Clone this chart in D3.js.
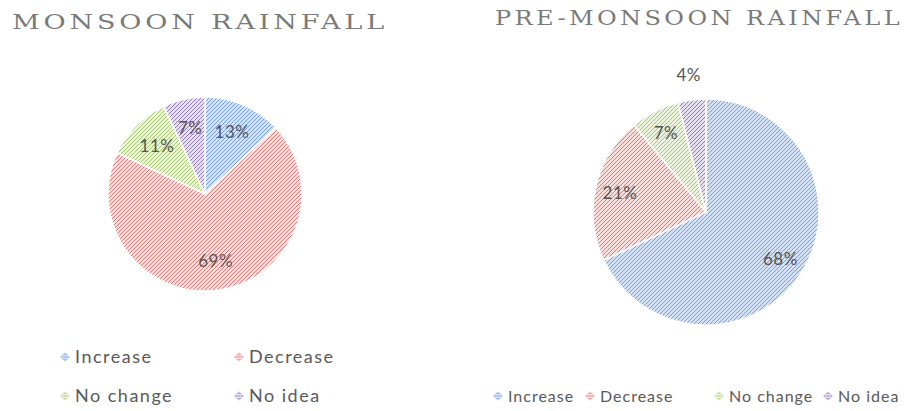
<!DOCTYPE html>
<html><head><meta charset="utf-8">
<script src="https://cdn.jsdelivr.net/npm/d3@7"></script>
<style>body{margin:0;background:#fff}svg{display:block}</style>
</head><body>
<svg id="c" width="918" height="411"></svg>
<script>
const categories = ["Increase", "Decrease", "No change", "No idea"];
const monsoonValues = [13, 69, 11, 7];
const preMonsoonValues = [68, 21, 7, 4];
const titles = ["MONSOON RAINFALL", "PRE-MONSOON RAINFALL"];

const lineColors = ["#769cd6", "#d77b78", "#a9c772", "#8f7bb5"];
const bgColors = ["#d3e2f7", "#f8dedd", "#ebf3dc", "#e6e0f1"];

const svg = d3.select("#c");
const defs = svg.append("defs");
categories.forEach((c, i) => {
  const p = defs.append("pattern").attr("id", "pat" + i).attr("patternUnits", "userSpaceOnUse")
    .attr("width", 4).attr("height", 4);
  p.append("rect").attr("width", 4).attr("height", 4).attr("fill", bgColors[i]);
  p.append("path").attr("d", "M-1,1 l2,-2 M0,4 l4,-4 M3,5 l2,-2")
    .attr("stroke", lineColors[i]).attr("stroke-width", 1);
});

const pie = d3.pie().sort(null).value(d => d);

function drawPie(values, cx, cy, r, labelFactor) {
  const g = svg.append("g").attr("transform", `translate(${cx},${cy})`);
  const arcs = pie(values);
  const arc = d3.arc().innerRadius(0).outerRadius(r);
  g.selectAll("path").data(arcs).join("path")
    .attr("d", arc)
    .attr("fill", (d, i) => `url(#pat${i})`)
    .attr("stroke", "#fff").attr("stroke-width", 1.5);
  const inner = d3.arc().innerRadius(r * labelFactor).outerRadius(r * labelFactor);
  const outer = d3.arc().innerRadius(r * 1.22).outerRadius(r * 1.22);
  g.selectAll("text").data(arcs).join("text")
    .attr("transform", d => `translate(${(d.data < 5 ? outer : inner).centroid(d)})`)
    .attr("text-anchor", "middle").attr("dy", "0.35em")
    .attr("font-family", "Lato, 'Open Sans', sans-serif").attr("font-size", 17)
    .attr("fill", "#555").attr("letter-spacing", 0.5)
    .text(d => d.data + "%");
}

drawPie(monsoonValues, 205, 194, 97, 0.7);
drawPie(preMonsoonValues, 706, 212, 113, 0.78);

// titles
svg.append("text").attr("x", 12).attr("y", 29).text(titles[0])
  .attr("font-family", "'DejaVu Serif', serif").attr("font-size", 21).attr("fill", "#7a7a7a")
  .attr("letter-spacing", 3)
  .attr("textLength", 376).attr("lengthAdjust", "spacingAndGlyphs");
svg.append("text").attr("x", 495).attr("y", 25).text(titles[1])
  .attr("font-family", "'DejaVu Serif', serif").attr("font-size", 21).attr("fill", "#7a7a7a")
  .attr("letter-spacing", 3)
  .attr("textLength", 408).attr("lengthAdjust", "spacingAndGlyphs");

// legends
function legendItem(x, y, i, size, ls) {
  svg.append("rect").attr("x", -3.5).attr("y", -3.5).attr("width", 7).attr("height", 7)
    .attr("transform", `translate(${x},${y}) rotate(45)`)
    .attr("fill", `url(#pat${i})`);
  svg.append("text").attr("x", x + 10).attr("y", y).attr("dy", "0.35em")
    .attr("font-family", "Lato, 'Open Sans', sans-serif").attr("font-size", size)
    .attr("letter-spacing", ls)
    .attr("fill", "#595959").text(categories[i]);
}
const leftPos = [[65, 357], [239, 357], [65, 396], [239, 396]];
categories.forEach((c, i) => legendItem(leftPos[i][0], leftPos[i][1], i, 18, 1.5));
const rightPos = [[498, 396], [590, 396], [719, 396], [828, 396]];
categories.forEach((c, i) => legendItem(rightPos[i][0], rightPos[i][1], i, 16, 1));
</script>
</body></html>
